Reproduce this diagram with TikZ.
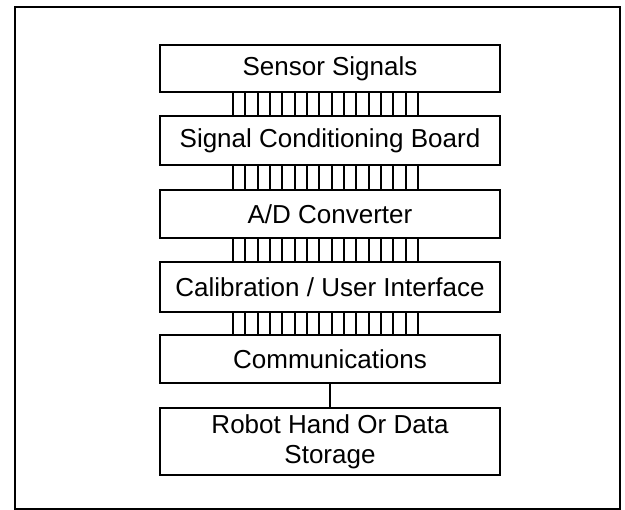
\documentclass[tikz,border=0pt]{standalone}
\usepackage{fontspec}
\setmainfont{Liberation Sans}
\begin{document}
\begin{tikzpicture}[x=1pt,y=-1pt,
  blk/.style={draw,line width=2.2pt,minimum width=340pt,inner sep=0pt,align=center,
    font=\fontsize{26}{30}\selectfont},
  bus/.style={line width=2pt}]
\useasboundingbox (0,0) rectangle (625,510);
\draw[line width=2pt] (15,7) rectangle (620,509);
\node[blk,minimum height=47pt] (s1) at (330,68.5) {Sensor Signals};
\node[blk,minimum height=49pt] (s2) at (330,140.5) {Signal Conditioning Board};
\node[blk,minimum height=48pt] (s3) at (330,214) {A/D Converter};
\node[blk,minimum height=50pt] (s4) at (330,287) {Calibration / User Interface};
\node[blk,minimum height=48pt] (s5) at (330,359) {Communications};
\node[blk,minimum height=67pt] (s6) at (330,441.5) {Robot Hand Or Data\\Storage};
\foreach \a/\b in {s1/s2,s2/s3,s3/s4,s4/s5}{
  \foreach \i in {0,...,15}{
    \draw[bus] ([xshift={-97+\i*12.33}]\a.south) -- ([xshift={-97+\i*12.33}]\b.north);
  }
}
\draw[bus] (s5.south) -- (s6.north);
\end{tikzpicture}
\end{document}
